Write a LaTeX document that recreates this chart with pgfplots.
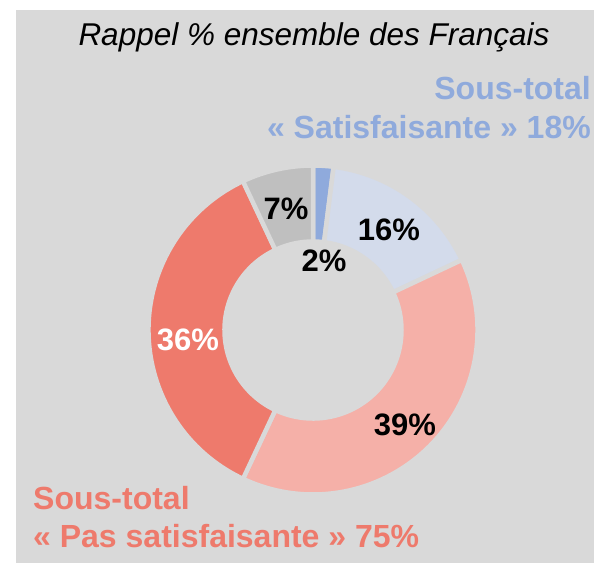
\documentclass[border=0pt]{standalone}
\usepackage{pgfplots}
\pgfplotsset{compat=1.18}
\usepackage{pgfplotstable}
\usepackage{fontspec}
\setmainfont{Liberation Sans}

\definecolor{bg}{RGB}{217,217,217}
\definecolor{sat}{RGB}{143,170,220}
\definecolor{satl}{RGB}{211,219,235}
\definecolor{pas}{RGB}{238,122,108}
\definecolor{pasl}{RGB}{245,176,168}
\definecolor{nsp}{RGB}{191,191,191}

% share of each answer, clockwise from 12 o'clock
\pgfplotstableread{
value colour
2  sat
16 satl
39 pasl
36 pas
7  nsp
}\slices

\newcommand\bigtxt{\fontsize{31}{36}\selectfont}
\newcommand\subtxt{\fontsize{32}{36}\selectfont}

\begin{document}
\begin{tikzpicture}
\begin{axis}[width=594pt,height=563pt,scale only axis,hide axis,clip=false,
  xmin=0,xmax=594,ymin=0,ymax=563]
\path (axis cs:0,0) rectangle (axis cs:594,563);
\fill[bg] (axis cs:16,0) rectangle (axis cs:594,553);

\gdef\angstart{90}
\pgfplotsforeachungrouped \i in {0,...,4}{%
  \pgfplotstablegetelem{\i}{value}\of\slices \let\v\pgfplotsretval
  \pgfplotstablegetelem{\i}{colour}\of\slices \let\c\pgfplotsretval
  \pgfmathsetmacro\angend{\angstart-3.6*\v}%
  \edef\cmd{\noexpand\fill[\c,draw=bg,line width=4.5pt]
    ([shift={(\angstart:164.5pt)}]axis cs:313,233)
    arc[start angle=\angstart,end angle=\angend,radius=164.5pt]
    -- ([shift={(\angend:88.5pt)}]axis cs:313,233)
    arc[start angle=\angend,end angle=\angstart,radius=88.5pt] -- cycle;}%
  \cmd
  \xdef\angstart{\angend}%
}

\begin{scope}[every node/.style={inner sep=0pt,font=\bfseries\bigtxt}]
\node at (axis cs:324,302) {2\%};
\node at (axis cs:389,333) {16\%};
\node at (axis cs:405,138) {39\%};
\node[white] at (axis cs:188,223) {36\%};
\node at (axis cs:286,354) {7\%};
\end{scope}
\begin{scope}[every node/.style={inner sep=0pt,font=\bfseries\subtxt}]
\node[sat,anchor=base east] at (axis cs:591,463) {Sous-total};
\node[sat,anchor=base east] at (axis cs:591,424) {« Satisfaisante » 18\%};
\node[pas,anchor=base west] at (axis cs:33,54) {Sous-total};
\node[pas,anchor=base west] at (axis cs:33,16) {« Pas satisfaisante » 75\%};
\end{scope}
\node[anchor=base,inner sep=0pt,font=\itshape\fontsize{31.5}{36}\selectfont]
  at (axis cs:314,517) {Rappel \% ensemble des Français};
\end{axis}
\end{tikzpicture}
\end{document}
